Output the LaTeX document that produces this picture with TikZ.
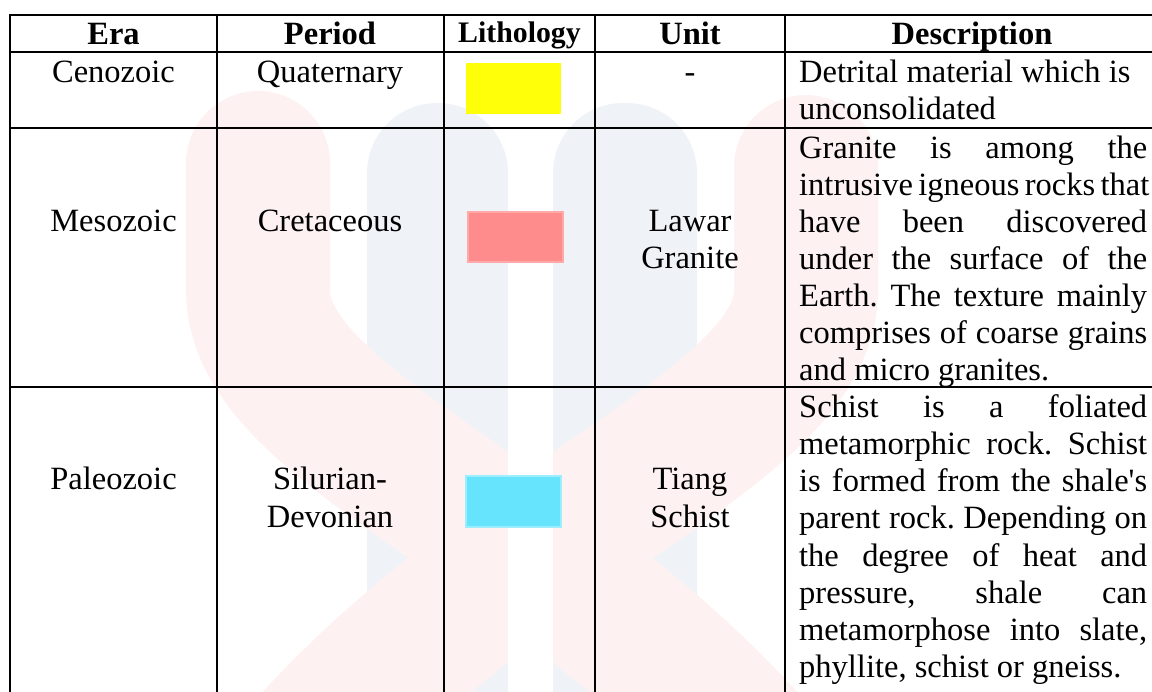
\documentclass[tikz,border=0pt]{standalone}
\usepackage{fontspec}
\setmainfont{Liberation Serif}[Ligatures=TeXOff]
\definecolor{wmblue}{HTML}{EFF3F8}
\definecolor{wmpink}{HTML}{FDF1F1}
\definecolor{lithoyellow}{HTML}{FFFF0A}
\definecolor{lithopink}{HTML}{FF8C8C}
\definecolor{lithoblue}{HTML}{66E3FD}
\newcommand\cellfont{\fontsize{32.5pt}{37pt}\selectfont\frenchspacing}
\newcommand\headfont{\fontsize{32.5pt}{37pt}\selectfont\bfseries}
\newcommand\smallheadfont{\fontsize{29.8pt}{34pt}\selectfont\bfseries}
\newcommand\jline[1]{\makebox[348pt][s]{#1}}
\tikzset{
  gridline/.style={line width=1.8pt, black},
  cell/.style={inner sep=0pt, anchor=base, font=\cellfont},
  head/.style={inner sep=0pt, anchor=base, font=\headfont},
  desc/.style={inner sep=0pt, anchor=base west, font=\cellfont},
  swatch/.style={line width=1.2pt},
  wmband/.style={line width=144pt, line cap=round}
}
\begin{document}
\frenchspacing
\begin{tikzpicture}[x=1pt,y=-1pt]
\useasboundingbox (0,0) rectangle (1152,692);
% watermark
\begin{scope}
  \clip (0,0) rectangle (1152,692);
  \fill[wmblue, rounded corners=70pt] (367,103) rectangle (508,760);
  \fill[wmblue, rounded corners=70pt] (553,103) rectangle (697,760);
  \draw[wmband, wmpink] (258,163) -- (258,290) .. controls (258,430) and (560,520) .. (770,770);
  \draw[wmband, wmpink] (806,167) -- (806,290) .. controls (806,430) and (500,520) .. (290,770);
  \fill[white] (508,180) rectangle (553,692);
\end{scope}
% grid
\draw[gridline] (9,15) -- (1152,15);
\draw[gridline] (10,52) -- (1152,52);
\draw[gridline] (10,128) -- (1152,128);
\draw[gridline] (10,387) -- (1152,387);
\foreach \xx in {10,217,444,595,785} {
  \draw[gridline] (\xx,15) -- (\xx,692);
}
% header
\node[head] (hEra) at (113.5,45) {Era};
\node[head] (hPeriod) at (330,45) {Period};
\node[inner sep=0pt, anchor=base, font=\smallheadfont] (hLith) at (519.5,43) {Lithology};
\node[head] (hUnit) at (690,45) {Unit};
\node[head] (hDesc) at (972,45) {Description};
% row 1
\node[cell] (era1) at (113.5,83) {Cenozoic};
\node[cell] (per1) at (330,83) {Quaternary};
\fill[lithoyellow] (466,63) rectangle (561,114);
\node[cell] (unit1) at (690,83) {-};
\node[desc] (d11) at (799,83) {Detrital material which is};
\node[desc] (d12) at (799,120) {unconsolidated};
% row 2
\node[cell] (era2) at (113.5,232) {Mesozoic};
\node[cell] (per2) at (330,232) {Cretaceous};
\draw[swatch, fill=lithopink, draw=lithopink!75!white] (468,212) rectangle (563,262);
\node[cell] (unit2a) at (690,232) {Lawar};
\node[cell] (unit2b) at (690,269) {Granite};
\node[desc] (d21) at (799,159) {\jline{Granite is among the}};
\node[desc] (d22) at (799,196) {\jline{intrusive igneous rocks that}};
\node[desc] (d23) at (799,233) {\jline{have been discovered}};
\node[desc] (d24) at (799,270) {\jline{under the surface of the}};
\node[desc] (d25) at (799,307) {\jline{Earth. The texture mainly}};
\node[desc] (d26) at (799,344) {\jline{comprises of coarse grains}};
\node[desc] (d27) at (799,381) {and micro granites.};
% row 3
\node[cell] (era3) at (113.5,490) {Paleozoic};
\node[cell] (per3a) at (330,490) {Silurian-};
\node[cell] (per3b) at (330,527) {Devonian};
\draw[swatch, fill=lithoblue, draw=lithoblue!65!white, line width=1.8pt] (466,476) rectangle (561,527);
\node[cell] (unit3a) at (690,490) {Tiang};
\node[cell] (unit3b) at (690,527) {Schist};
\node[desc] (d31) at (799,418) {\jline{Schist is a foliated}};
\node[desc] (d32) at (799,455) {\jline{metamorphic rock. Schist}};
\node[desc] (d33) at (799,492) {\jline{is formed from the shale's}};
\node[desc] (d34) at (799,529) {\jline{parent rock. Depending on}};
\node[desc] (d35) at (799,566) {\jline{the degree of heat and}};
\node[desc] (d36) at (799,603) {\jline{pressure, shale can}};
\node[desc] (d37) at (799,640) {\jline{metamorphose into slate,}};
\node[desc] (d38) at (799,677) {phyllite, schist or gneiss.};
\end{tikzpicture}
\end{document}
